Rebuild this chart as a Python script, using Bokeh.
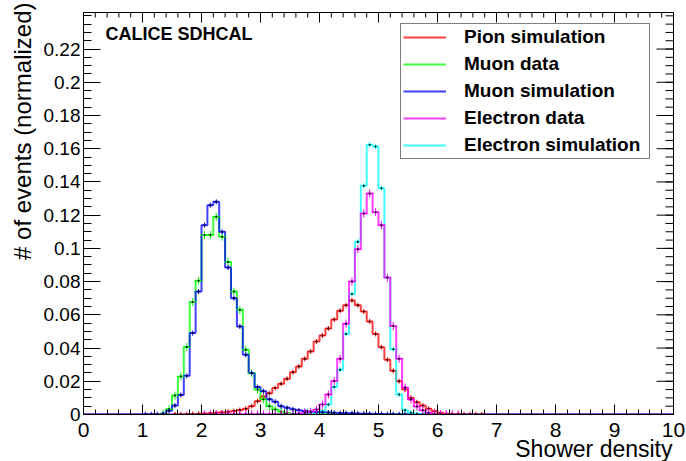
import numpy as np
from bokeh.plotting import figure
from bokeh.models import FixedTicker, LinearAxis, Legend, LegendItem, Label, Title
from bokeh.embed import file_html
from bokeh.resources import INLINE

# ---------------- data ----------------
x_min, x_max, bin_width = 0.0, 10.0, 0.1
y_min, y_max = 0.0, 0.242

pion_sim_start = 1.5
pion_sim = [0.0001, 0.0001, 0.0002, 0.0003, 0.0004, 0.0006, 0.0008, 0.0010, 0.0013, 0.0016,
            0.0021, 0.0027, 0.0035, 0.0050, 0.0080, 0.0108, 0.0128, 0.0159, 0.0185, 0.0215,
            0.0255, 0.0289, 0.0335, 0.0380, 0.0440, 0.0476, 0.0518, 0.0572, 0.0625, 0.0658,
            0.0687, 0.0658, 0.0620, 0.0560, 0.0485, 0.0405, 0.0330, 0.0263, 0.0200, 0.0150,
            0.0100, 0.0074, 0.0054, 0.0035, 0.0020, 0.0010, 0.0005, 0.0003, 0.0002, 0.0001,
            0.0001, 0.0001, 0.0001]

muon_data_start = 1.3
muon_data = [0.0005, 0.0032, 0.0114, 0.0229, 0.0406, 0.0677, 0.0805, 0.1080, 0.1080, 0.1190,
             0.1070, 0.0918, 0.0740, 0.0630, 0.0390, 0.0249, 0.0150, 0.0092, 0.0050, 0.0030,
             0.0017, 0.0009, 0.0005, 0.0003, 0.0002, 0.0002, 0.0001, 0.0001, 0.0001, 0.0001]

muon_sim_start = 1.0
muon_sim = [0.0001, 0.0001, 0.0002, 0.0005, 0.0022, 0.0054, 0.0118, 0.0233, 0.0490, 0.0740,
            0.1140, 0.1260, 0.1280, 0.1100, 0.0885, 0.0700, 0.0530, 0.0360, 0.0250, 0.0165,
            0.0140, 0.0092, 0.0077, 0.0050, 0.0040, 0.0031, 0.0025, 0.0021, 0.0018, 0.0015,
            0.0013, 0.0012, 0.0010, 0.0009, 0.0008, 0.0007, 0.0006, 0.0005, 0.0004, 0.0003,
            0.0003, 0.0002, 0.0002, 0.0001, 0.0001]

electron_data_start = 2.0
electron_data = [0.0001, 0.0001, 0.0001, 0.0001, 0.0001, 0.0001, 0.0001, 0.0001, 0.0001, 0.0001,
                 0.0001, 0.0001, 0.0001, 0.0001, 0.0002, 0.0003, 0.0005, 0.0010, 0.0017, 0.0030,
                 0.0060, 0.0121, 0.0202, 0.0335, 0.0547, 0.0800, 0.0995, 0.1210, 0.1330, 0.1218,
                 0.1140, 0.0824, 0.0533, 0.0336, 0.0162, 0.0090, 0.0048, 0.0025, 0.0011, 0.0005,
                 0.0003, 0.0002, 0.0001, 0.0001]

electron_sim_start = 3.5
electron_sim = [0.0001, 0.0002, 0.0003, 0.0005, 0.0010, 0.0020, 0.0060, 0.0166, 0.0270, 0.0485,
                0.0726, 0.1040, 0.1377, 0.1624, 0.1613, 0.1362, 0.0824, 0.0393, 0.0120, 0.0025,
                0.0011, 0.0004, 0.0002]

series_names = ["Pion simulation", "Muon data", "Muon simulation", "Electron data", "Electron simulation"]
series_colors = ["#ff0000", "#00ff00", "#0000ff", "#ff00ff", "#00ffff"]
series_is_data = [False, True, False, True, False]

x_ticks = [0, 1, 2, 3, 4, 5, 6, 7, 8, 9, 10]
x_tick_labels = ["0", "1", "2", "3", "4", "5", "6", "7", "8", "9", "10"]
y_ticks = [0, 0.02, 0.04, 0.06, 0.08, 0.1, 0.12, 0.14, 0.16, 0.18, 0.2, 0.22]
y_tick_labels = ["0", "0.02", "0.04", "0.06", "0.08", "0.1", "0.12", "0.14", "0.16", "0.18", "0.2", "0.22"]

x_title = "Shower density"
y_title = "# of events (normalized)"
header = "CALICE SDHCAL"

# ---------------- helpers ----------------
n_bins = int(round((x_max - x_min) / bin_width))
edges = np.round(np.linspace(x_min, x_max, n_bins + 1), 3)
centers = edges[:-1] + bin_width / 2


def full_hist(start, vals):
    h = np.zeros(n_bins)
    i0 = int(round((start - x_min) / bin_width))
    h[i0:i0 + len(vals)] = vals
    return h


hists = [full_hist(pion_sim_start, pion_sim), full_hist(muon_data_start, muon_data),
         full_hist(muon_sim_start, muon_sim), full_hist(electron_data_start, electron_data),
         full_hist(electron_sim_start, electron_sim)]

FONT = "Liberation Sans"

p = figure(width=686, height=461, x_range=(x_min, x_max), y_range=(y_min, y_max),
           output_backend="svg", toolbar_location=None,
           min_border_left=83, min_border_right=13, min_border_top=12, min_border_bottom=47,
           x_axis_location=None, y_axis_location=None)
p.xgrid.visible = False
p.ygrid.visible = False
p.outline_line_color = "black"
p.outline_line_width = 1
p.background_fill_color = "white"
p.border_fill_color = "white"

x_minor = list(np.round(np.arange(x_min, x_max + 1e-9, 0.2), 3))
y_minor = list(np.round(np.arange(y_min, y_max + 1e-9, 0.005), 4))


def style_axis(ax):
    ax.major_tick_out = 0
    ax.minor_tick_out = 0
    ax.axis_line_color = "black"
    ax.major_tick_line_color = "black"
    ax.minor_tick_line_color = "black"
    ax.major_label_text_font = FONT
    ax.major_label_text_color = "black"


xb = LinearAxis(ticker=FixedTicker(ticks=x_ticks, minor_ticks=x_minor))
style_axis(xb)
xb.major_tick_in, xb.minor_tick_in = 10, 5
xb.major_label_overrides = dict(zip(x_ticks, x_tick_labels))
xb.major_label_text_font_size = "21px"
xb.major_label_standoff = 8
p.add_layout(xb, "below")

yl = LinearAxis(ticker=FixedTicker(ticks=y_ticks, minor_ticks=y_minor))
style_axis(yl)
yl.major_tick_in, yl.minor_tick_in = 17, 8
yl.major_label_overrides = dict(zip(y_ticks, y_tick_labels))
yl.major_label_text_font_size = "19px"
yl.major_label_standoff = 3
p.add_layout(yl, "left")

# axis titles, placed at the far end of each axis
p.add_layout(Title(text=x_title, align="right", vertical_align="top", offset=1, standoff=-7,
                   text_font=FONT, text_font_style="normal", text_font_size="23px",
                   text_color="black"), "below")
p.add_layout(Title(text=y_title, align="right", vertical_align="bottom", offset=-10, standoff=10,
                   text_font=FONT, text_font_style="normal", text_font_size="24px",
                   text_color="black"), "left")

# mirrored ticks on top and right edges (no labels)
p.ray(x=x_ticks, y=y_max, length=10, length_units="screen", angle=-np.pi / 2,
      line_color="black", line_width=1)
p.ray(x=x_minor, y=y_max, length=5, length_units="screen", angle=-np.pi / 2,
      line_color="black", line_width=1)
p.ray(x=x_max, y=y_ticks, length=17, length_units="screen", angle=np.pi,
      line_color="black", line_width=1)
p.ray(x=x_max, y=y_minor, length=8, length_units="screen", angle=np.pi,
      line_color="black", line_width=1)

# ---------------- histograms ----------------
draw_order = [0, 1, 4, 2, 3]
renderers = {}
for i in draw_order:
    h = hists[i]
    r = p.step(x=edges, y=np.append(h, h[-1]), mode="after",
               line_color=series_colors[i], line_width=2, line_alpha=0.75)
    renderers[i] = r
for i in draw_order:
    h = hists[i]
    m = h > 0
    p.scatter(x=centers[m], y=h[m], marker="cross", size=8 if series_is_data[i] else 5,
              line_color=series_colors[i], line_width=1)
    p.scatter(x=centers[m], y=h[m], marker="circle", size=2,
              fill_color="black", line_color=None)

legend = Legend(items=[LegendItem(label=series_names[i], renderers=[renderers[i]]) for i in range(5)],
                location=(317, 255), orientation="vertical",
                label_text_font=FONT, label_text_font_style="bold", label_text_font_size="19px",
                label_text_color="black",
                glyph_width=43, glyph_height=22, label_height=22, label_width=183,
                label_standoff=18, padding=2, spacing=5, margin=0,
                border_line_color="black", border_line_width=1,
                background_fill_color="white", background_fill_alpha=1.0)
p.add_layout(legend)

p.add_layout(Label(x=22, y=381, x_units="screen", y_units="screen", text=header,
                   text_font=FONT, text_font_style="bold", text_font_size="18px",
                   text_color="black", text_baseline="alphabetic"))

open("out.html", "w").write(file_html(p, INLINE))
